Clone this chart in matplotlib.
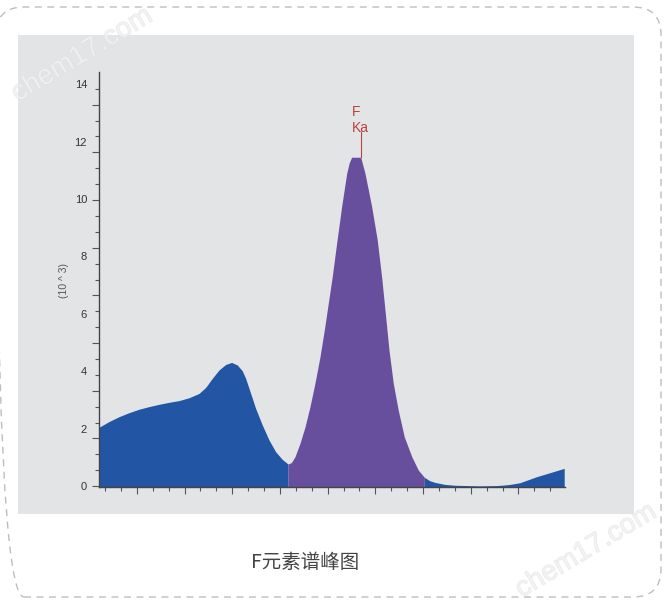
import matplotlib
matplotlib.use('Agg')
import matplotlib.pyplot as plt
import matplotlib.patheffects as pe
from matplotlib.patches import FancyBboxPatch, Rectangle
import numpy as np

# x in channel units (one minor tick = 1), counts in 10^3
left_x = [0.0, 0.63, 1.26, 1.89, 2.52, 3.14, 3.77, 4.40, 5.03, 5.66, 6.29, 6.71,
          7.13, 7.55, 7.97, 8.34, 8.70, 9.01, 9.22, 9.54, 9.85, 10.27, 10.69,
          11.11, 11.53, 11.89]
left_y = [2.08, 2.28, 2.45, 2.59, 2.71, 2.80, 2.88, 2.95, 3.01, 3.11, 3.26, 3.47,
          3.79, 4.08, 4.27, 4.34, 4.25, 4.05, 3.79, 3.26, 2.74, 2.16, 1.64,
          1.23, 0.96, 0.80]

peak_x = [11.89, 12.10, 12.33, 12.64, 12.96, 13.27, 13.58, 13.90, 14.17, 14.42,
          14.67, 14.89, 15.26, 15.58, 15.74, 15.89, 16.46, 16.60, 16.73, 17.15,
          17.50, 17.78, 18.00, 18.24, 18.51, 18.82, 19.20, 19.67, 20.08, 20.46]
peak_y = [0.80, 0.85, 1.06, 1.52, 2.10, 2.80, 3.61, 4.54, 5.47, 6.40,
          7.33, 8.26, 9.77, 10.93, 11.30, 11.49, 11.49, 11.20, 10.93, 9.77,
          8.61, 7.30, 6.10, 4.77, 3.61, 2.68, 1.75, 1.06, 0.59, 0.34]

right_x = [20.46, 20.80, 21.13, 21.76, 22.39, 23.96, 25.01, 25.50, 25.85, 26.48,
           27.53, 28.37, 29.26]
right_y = [0.34, 0.22, 0.16, 0.09, 0.06, 0.04, 0.05, 0.07, 0.09, 0.15,
           0.36, 0.50, 0.65]

ytick_vals = [0, 2, 4, 6, 8, 10, 12, 14]
peak_name = ['F', 'Ka']
title = 'F元素谱峰图'

blue = '#2355a5'
purple = '#674f9e'
red = '#c0403a'

fig = plt.figure(figsize=(6.66, 6.06), dpi=100)

# background layer in pixel coordinates (y measured upwards)
bg = fig.add_axes([0, 0, 1, 1], zorder=0)
bg.set_xlim(0, 666)
bg.set_ylim(0, 606)
bg.axis('off')
bg.add_patch(FancyBboxPatch((-4 + 28, 9 + 28), 665 - 56, 590 - 56,
                            boxstyle='round,pad=28', fill=False,
                            edgecolor='#bdbdbd', linestyle=(0, (5, 4)), linewidth=1))
bg.add_patch(Rectangle((18, 92), 616, 479, facecolor='#e3e4e6', edgecolor='none'))
bg.text(305, 606 - 563, title, ha='center', va='center', fontsize=14, color='#444444',
        family=['Noto Sans CJK SC', 'DejaVu Sans'])
bg.text(64, 606 - 280, '(10 ^ 3)', rotation=90, ha='center', va='center', fontsize=7.5,
        color='#555555', family=['Liberation Sans', 'DejaVu Sans'])
for cx, cy in [(82, 606 - 55), (586, 606 - 551)]:
    bg.text(cx, cy, 'chem17.com', rotation=31, ha='center', va='center', fontsize=20,
            color='#f3f3f3', alpha=0.6, family=['Liberation Sans'],
            path_effects=[pe.Stroke(linewidth=0.8, foreground='#dedede'), pe.Normal()])

ax = fig.add_axes([99 / 666, (606 - 487) / 606, 466 / 666, 415 / 606], zorder=1)
ax.patch.set_alpha(0)
ax.set_xlim(0, 29.31)
ax.set_ylim(0, 14.46)

ax.fill_between(left_x, left_y, 0, color=blue, linewidth=0)
ax.fill_between(peak_x, peak_y, 0, color=purple, linewidth=0)
ax.fill_between(right_x, right_y, 0, color=blue, linewidth=0)

# peak marker
top_i = int(np.argmax(peak_y))
mark_x = peak_x[top_i + 1]
ax.plot([mark_x, mark_x], [peak_y[top_i], 12.38], color=red, linewidth=0.8)
ax.text(15.91, 13.08, peak_name[0], color=red, fontsize=10, ha='left', va='center',
        family=['Liberation Sans'])
ax.text(15.91, 12.51, peak_name[1], color=red, fontsize=10, ha='left', va='center',
        family=['Liberation Sans'])

for s in ['top', 'right']:
    ax.spines[s].set_visible(False)
for s in ['left', 'bottom']:
    ax.spines[s].set_color('#444444')
    ax.spines[s].set_linewidth(1)

ax.set_xticks(np.arange(2.38, 29.3, 3))
ax.set_xticks(np.arange(0.38, 29.3, 1), minor=True)
ax.set_yticks(np.concatenate([np.arange(10, -0.01, -1.662), np.arange(11.662, 14.4, 1.662)]))
ax.set_yticks(np.concatenate([np.arange(10, -0.1, -0.554), np.arange(10.554, 14.4, 0.554)]), minor=True)
ax.tick_params(which='major', length=5, width=0.8, color='#555555', labelbottom=False, labelleft=False)
ax.tick_params(which='minor', length=3, width=0.8, color='#555555')

for v in ytick_vals:
    ax.text(-12 / 466, v, str(v), transform=ax.get_yaxis_transform(), ha='right', va='center',
            fontsize=8, color='#333333', family=['Liberation Sans'])

fig.savefig('out.png', dpi=100)
